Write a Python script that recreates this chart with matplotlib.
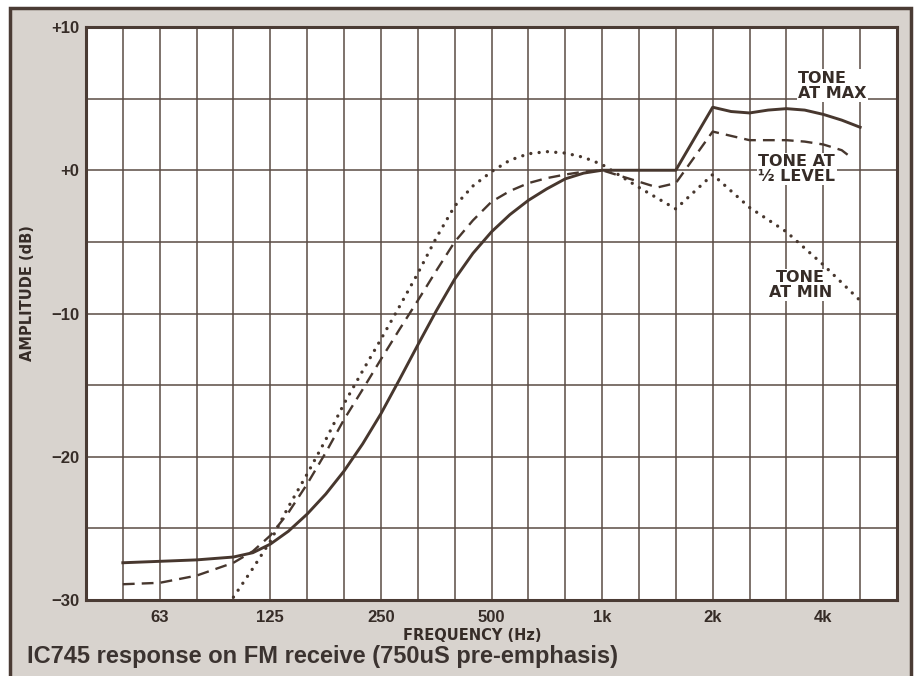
import matplotlib
matplotlib.use("Agg")
import matplotlib.pyplot as plt
from matplotlib.patches import Rectangle

# ---------------- data ----------------
freq_max = [49.6, 62.5, 78.7, 99.2, 112, 125, 140, 157.5, 177, 198.4, 223, 250,
            281, 315, 354, 397, 445, 500, 561, 630, 707, 794, 891, 1000,
            1587, 2000, 2244, 2520, 2830, 3175, 3560, 4000, 4490, 5040]
db_max = [-27.4, -27.3, -27.2, -27.0, -26.7, -26.1, -25.2, -24.0, -22.6, -21.0, -19.1, -17.0,
          -14.6, -12.2, -9.8, -7.6, -5.8, -4.3, -3.1, -2.1, -1.3, -0.6, -0.2, 0.0,
          0.0, 4.4, 4.1, 4.0, 4.2, 4.3, 4.2, 3.9, 3.5, 3.0]

freq_half = [49.6, 62.5, 78.7, 99.2, 112, 125, 140, 157.5, 177, 198.4, 223, 250,
             281, 315, 354, 397, 445, 500, 561, 630, 707, 794, 891, 1000,
             1122, 1260, 1414, 1587, 2000, 2244, 2520, 2830, 3175, 3560, 4000, 4490, 4760]
db_half = [-28.9, -28.8, -28.3, -27.4, -26.6, -25.5, -23.9, -21.9, -19.7, -17.4, -15.3, -13.2,
           -11.1, -9.1, -7.0, -5.0, -3.5, -2.2, -1.45, -0.9, -0.55, -0.3, -0.1, 0.0,
           -0.4, -0.8, -1.2, -0.9, 2.7, 2.4, 2.1, 2.1, 2.1, 2.0, 1.8, 1.4, 0.9]

freq_min = [99.2, 112, 125, 140, 157.5, 177, 198.4, 223, 250, 281, 315, 354,
            397, 445, 500, 561, 630, 707, 794, 891, 1000, 1260, 1587, 2000,
            2520, 3175, 4000, 5040]
db_min = [-29.8, -27.8, -25.9, -23.5, -21.2, -18.8, -16.3, -14.0, -11.8, -9.5, -7.2, -4.7,
          -2.5, -1.1, -0.1, 0.7, 1.15, 1.3, 1.2, 0.9, 0.4, -1.2, -2.7, -0.3,
          -2.6, -4.3, -6.6, -9.1]

x_tick_values = [62.5, 125, 250, 500, 1000, 2000, 4000]
x_tick_labels = ['63', '125', '250', '500', '1k', '2k', '4k']
y_tick_values = [-30, -20, -10, 0, 10]
y_tick_labels = ['\u221230', '\u221220', '\u221210', '+0', '+10']
y_minor_values = [-25, -15, -5, 5]

# ---------------- style ----------------
W, H = 922, 676
INK = '#47372e'
GRID = '#5a4c44'
TEXT = '#362c27'
PANEL = '#d8d3ce'

plt.rcParams['font.family'] = ['Liberation Sans', 'DejaVu Sans']

fig = plt.figure(figsize=(W / 100, H / 100), dpi=100)
fig.patch.set_facecolor('white')

# outer grey panel with dark frame
fig.add_artist(Rectangle((10 / W, -0.05), (911 - 10) / W, (H - 8) / H + 0.05,
                         transform=fig.transFigure, facecolor=PANEL,
                         edgecolor='#4a3b34', linewidth=2.5, zorder=0))

ax = fig.add_axes([86 / W, (H - 600) / H, (897 - 86) / W, (600 - 27) / H])
ax.set_facecolor('white')
ax.set_xscale('log', base=2)
ax.set_xlim(1000 * 2 ** (-14 / 3), 1000 * 2 ** (8 / 3))
ax.set_ylim(-30, 10)

# grid: third-octave verticals, 5 dB horizontals
minor_x = [1000 * 2 ** (k / 3) for k in range(-13, 8)]
ax.set_xticks(minor_x, minor=True)
ax.set_xticks(x_tick_values)
ax.set_xticklabels(x_tick_labels)
ax.set_yticks(y_minor_values, minor=True)
ax.set_yticks(y_tick_values)
ax.set_yticklabels(y_tick_labels)
ax.tick_params(which='both', length=0)
ax.tick_params(axis='x', which='major', pad=7, labelsize=12, labelcolor=TEXT)
ax.tick_params(axis='y', which='major', pad=5, labelsize=12, labelcolor=TEXT)
ax.xaxis.set_minor_formatter(plt.NullFormatter())
for lbl in ax.get_xticklabels() + ax.get_yticklabels():
    lbl.set_fontweight('bold')
ax.grid(True, which='both', color=GRID, linewidth=1.1)
ax.set_axisbelow(True)
for s in ax.spines.values():
    s.set_color('#4a3b34')
    s.set_linewidth(2.2)

# curves
ax.plot(freq_max, db_max, color=INK, lw=2.1, zorder=4)
ax.plot(freq_half, db_half, color=INK, lw=1.7, dashes=(5, 3), zorder=4)
ax.plot(freq_min, db_min, color=INK, lw=2.4, dashes=(0.01, 2.5),
        dash_capstyle='round', zorder=4)

# annotations
box = dict(facecolor='white', edgecolor='none', pad=1.0)
ann = dict(fontsize=11.5, fontweight='bold', color=TEXT, family='DejaVu Sans',
           zorder=3, bbox=box, va='center')
ax.text(3420, 5.9, 'TONE\nAT MAX', ha='left', multialignment='left',
        linespacing=1.0, **ann)
ax.text(2660, 0.1, 'TONE AT\n\u00bd LEVEL', ha='left', multialignment='left',
        linespacing=0.95, **ann)
ax.text(3460, -8.0, 'TONE\nAT MIN', ha='center', multialignment='center',
        linespacing=0.95, **ann)

# axis titles and caption
fig.text(28 / W, 1 - 293 / H, 'AMPLITUDE (dB)', rotation=90, ha='center', va='center',
         fontsize=10.5, fontweight='bold', color=TEXT, family='DejaVu Sans')
fig.text(472 / W, 1 - 635 / H, 'FREQUENCY (Hz)', ha='center', va='center',
         fontsize=10.5, fontweight='bold', color=TEXT, family='DejaVu Sans')
fig.text(27 / W, 1 - 657 / H, 'IC745 response on FM receive (750uS pre-emphasis)',
         ha='left', va='center', fontsize=17, fontweight='bold', color='#3b3330')

fig.savefig('out.png', dpi=100, facecolor=fig.get_facecolor())
